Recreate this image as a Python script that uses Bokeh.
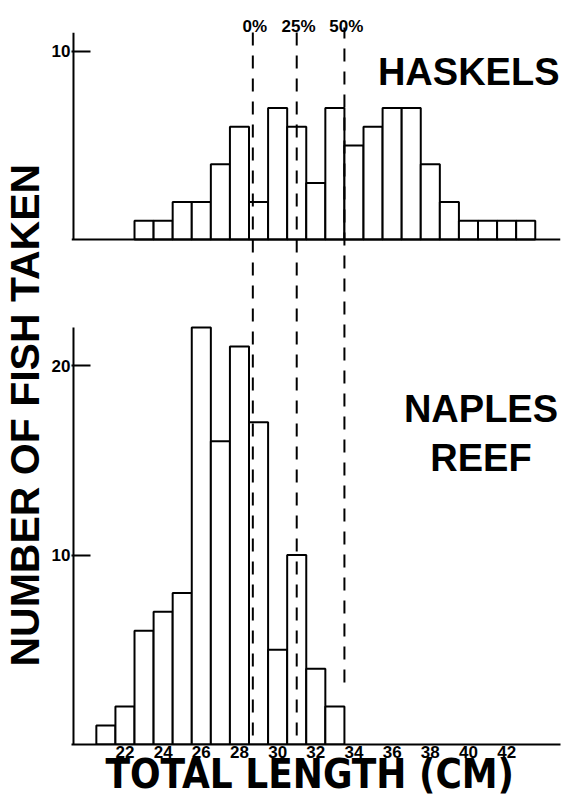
from bokeh.plotting import figure
from bokeh.models import Range1d, FixedTicker, Span, Title, ColumnDataSource
from bokeh.core.properties import value
from bokeh.embed import file_html
from bokeh.resources import INLINE

# ---------------- data ----------------
haskels_length = list(range(23, 44))
haskels_count = [1, 1, 2, 2, 4, 6, 2, 7, 6, 3, 7, 5, 6, 7, 7, 4, 2, 1, 1, 1, 1]
naples_length = list(range(21, 34))
naples_count = [1, 2, 6, 7, 8, 22, 16, 21, 17, 5, 10, 4, 2]
x_tick_values = list(range(22, 43, 2))
y_ticks_naples = [10, 20]
y_ticks_haskels = [10]
pct_labels = ["0%", "25%", "50%"]
pct_length = [28.7, 31.0, 33.5]

# ---------------- layout (page pixels) ----------------
W, H = 563, 796
frame_left, frame_right, frame_top, frame_bottom = 68, 560, 0, 744
x_anchor_px, x_anchor_cm, px_cm = 313.8, 32.0, 19.2
nap_base, nap_px = 744, 18.95
has_base, has_px = 239, 18.8

x_start = x_anchor_cm - (x_anchor_px - frame_left) / px_cm
x_end = x_anchor_cm + (frame_right - x_anchor_px) / px_cm
y_end = (nap_base - frame_top) / nap_px
top_start = -(frame_bottom - has_base) / has_px
top_end = (has_base - frame_top) / has_px


def px_x(px):
    return x_anchor_cm + (px - x_anchor_px) / px_cm


def px_nap(py):
    return (nap_base - py) / nap_px


def px_has(py):
    return (has_base - py) / has_px


FONT = value("Liberation Sans")
NARROW = "'Liberation Sans Narrow', 'DejaVu Sans Condensed', sans-serif"

p = figure(width=W, height=H, x_range=Range1d(x_start, x_end),
           y_range=Range1d(0, y_end), output_backend="svg",
           toolbar_location=None, min_border_left=frame_left,
           min_border_right=W - frame_right, min_border_top=frame_top,
           min_border_bottom=H - frame_bottom)
p.extra_y_ranges = {"top": Range1d(top_start, top_end)}
p.grid.visible = False
p.outline_line_color = None
p.background_fill_color = "white"
p.border_fill_color = "white"

# x axis
xa = p.xaxis[0]
xa.ticker = FixedTicker(ticks=x_tick_values)
xa.major_tick_in = 0
xa.major_tick_out = 0
xa.minor_tick_in = 0
xa.minor_tick_out = 0
xa.axis_line_width = 2
xa.axis_line_color = "black"
xa.major_label_text_font = "Liberation Sans"
xa.major_label_text_font_style = "bold"
xa.major_label_text_font_size = "17px"
xa.major_label_text_color = "black"
xa.major_label_standoff = 1

p.add_layout(Title(text="TOTAL  LENGTH (CM)", align="center",
                   vertical_align="top", standoff=-20,
                   text_font=NARROW, text_font_style="bold",
                   text_font_size="40px", text_color="black"), "below")

# y axis (shared for both panels; haskels tick mapped to page position)
T = round(px_nap(has_base - y_ticks_haskels[0] * has_px), 3)
ya = p.yaxis[0]
ya.ticker = FixedTicker(ticks=y_ticks_naples + [T])
ya.major_label_overrides = {T: str(y_ticks_haskels[0])}
ya.axis_line_color = None
ya.major_tick_in = 19
ya.major_tick_out = 0
ya.major_tick_line_width = 2
ya.minor_tick_in = 0
ya.minor_tick_out = 0
ya.major_label_text_font = "Liberation Sans"
ya.major_label_text_font_style = "bold"
ya.major_label_text_font_size = "17px"
ya.major_label_text_color = "black"
ya.major_label_standoff = 1

p.add_layout(Title(text="NUMBER OF FISH TAKEN", align="left", offset=78,
                   vertical_align="middle", standoff=0,
                   text_font="Liberation Sans", text_font_style="bold",
                   text_font_size="41px", text_color="black"), "left")

# axis lines of each panel
axis_x = px_x(70)
p.segment(x0=[axis_x], y0=[0], x1=[axis_x], y1=[max(naples_count)],
          line_color="black", line_width=2)
p.segment(x0=[axis_x], y0=[0], x1=[axis_x], y1=[11], line_color="black",
          line_width=2, y_range_name="top")
p.add_layout(Span(location=0, dimension="width", y_range_name="top",
                  line_color="black", line_width=2))

# bars
nap_src = ColumnDataSource(dict(
    left=[v - 0.5 for v in naples_length], right=[v + 0.5 for v in naples_length],
    top=naples_count))
has_src = ColumnDataSource(dict(
    left=[v - 0.5 for v in haskels_length], right=[v + 0.5 for v in haskels_length],
    top=haskels_count))
p.quad(left="left", right="right", bottom=0, top="top", source=nap_src,
       fill_color="white", line_color="black", line_width=2)
p.quad(left="left", right="right", bottom=0, top="top", source=has_src,
       fill_color="white", line_color="black", line_width=2, y_range_name="top")

# percentile dashed lines
p.segment(x0=pct_length, y0=[px_nap(735), px_nap(735), px_nap(682)],
          x1=pct_length, y1=[px_nap(27)] * 3, line_color="black",
          line_width=2, line_dash="13 10")
p.text(x=[v + 0.1 for v in pct_length], y=[px_has(25.5)] * 3, text=pct_labels,
       text_font=FONT, text_font_style="bold", text_font_size="17px",
       text_align="center", text_baseline="alphabetic", text_color="black",
       y_range_name="top")

# panel names
p.text(x=[px_x(559)], y=[px_has(71.7)], text=["HASKELS"], text_font=FONT,
       text_font_style="bold", text_font_size="38px", text_align="right",
       text_baseline="alphabetic", text_color="black", y_range_name="top")
p.text(x=[px_x(480)] * 2, y=[px_nap(408), px_nap(457)], text=["NAPLES", "REEF"],
       text_font=FONT, text_font_style="bold", text_font_size="38px",
       text_align="center", text_baseline="alphabetic", text_color="black")

open("out.html", "w").write(file_html(p, INLINE))
